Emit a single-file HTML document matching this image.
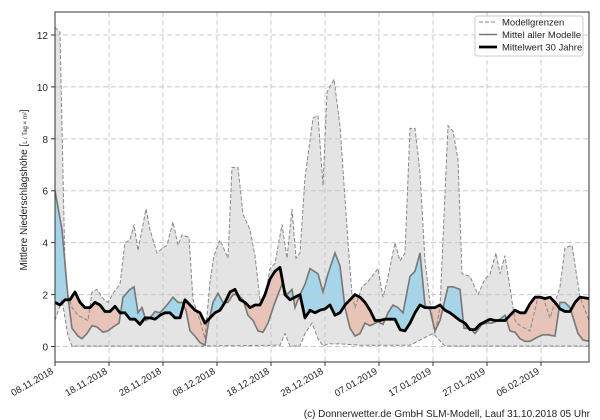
<!DOCTYPE html>
<html><head><meta charset="utf-8"><style>
html,body{margin:0;padding:0;background:#fff;}
svg{display:block;font-family:"Liberation Sans","DejaVu Sans",sans-serif;}
</style></head><body>
<svg id="s" width="600" height="420" xmlns="http://www.w3.org/2000/svg"></svg>
<script>
const L=55,R=589,T=12,B=362;
const Y=v=>346.5-v*25.96;
const up=[[55,12.3],[60,12.1],[65,3],[68,2],[72,1.5],[78,1.2],[88,1.0],[92,2.1],[97,2.2],[104,1.8],[108,1.7],[114,2.1],[120,2.4],[125,4.0],[130,4.1],[134,4.7],[138,3.7],[146,5.3],[150,4.5],[157,3.6],[163,3.8],[167,3.9],[173,4.8],[178,3.9],[182,4.3],[189,4.2],[193,1.8],[200,1.0],[205,0.3],[210,2.5],[214,3.5],[220,4.1],[228,3.4],[232,6.9],[238,6.9],[243,5.1],[250,4.5],[255,3.5],[260,1.8],[265,1.9],[270,3.0],[275,3.2],[282,4.7],[287,3.4],[292,5.3],[296,3.4],[300,3.6],[305,6.5],[313,8.8],[318,8.9],[323,6.2],[327,9.8],[334,10.3],[340,8.5],[348,4],[352,2],[355,1.5],[362,2.3],[368,2.5],[378,3.0],[383,1.9],[387,2.5],[395,4.0],[400,3.3],[405,3.6],[410,8.4],[415,8.4],[420,6.7],[425,3.3],[430,1.7],[435,0.5],[440,1.5],[448,8.5],[453,8.3],[458,7.2],[462,2.8],[470,2.7],[478,2.0],[485,2.6],[490,2.8],[496,3.6],[500,2.8],[505,3.5],[515,1.0],[520,0.8],[530,0.6],[538,1.9],[543,1.9],[550,1.1],[560,2.3],[565,3.8],[572,3.9],[580,1.9],[589,1.0]];
const lo=[[55,1.0],[62,1.8],[68,0.4],[72,0.02],[200,0.02],[280,0.05],[285,0.5],[290,0.02],[300,0.02],[305,0.5],[312,0.9],[318,0.3],[323,0.02],[328,0.1],[340,0.1],[360,0.05],[410,0.05],[433,0.5],[438,0.3],[445,0.02],[589,0.02]];
const mo=[[55,6.0],[62,4.5],[68,1.9],[72,0.7],[78,0.4],[82,0.3],[87,0.5],[92,0.8],[97,0.75],[103,0.55],[108,0.6],[113,0.75],[119,0.9],[123,1.9],[130,2.2],[134,2.3],[138,1.3],[142,1.5],[146,1.0],[150,1.1],[155,1.35],[160,1.3],[167,1.6],[173,1.9],[178,1.7],[182,1.7],[186,1.4],[190,0.6],[195,0.4],[200,0.15],[205,0.05],[208,0.8],[213,1.7],[218,2.05],[223,1.7],[228,1.7],[233,2.0],[238,2.0],[243,1.8],[248,1.2],[253,1.0],[258,0.6],[263,0.55],[268,0.9],[274,1.6],[282,2.4],[287,2.0],[292,2.2],[295,1.5],[300,2.0],[305,2.4],[310,3.0],[318,2.8],[323,2.1],[328,2.8],[335,3.6],[340,3.1],[345,1.5],[350,0.7],[355,0.4],[360,0.5],[365,0.9],[370,0.8],[378,0.95],[383,0.85],[388,1.3],[393,1.6],[398,1.5],[403,1.3],[410,2.7],[415,2.9],[420,3.6],[425,1.6],[430,1.4],[435,0.6],[440,1.0],[448,2.3],[453,2.3],[460,2.2],[464,0.7],[470,0.7],[475,0.5],[482,0.85],[487,0.9],[492,0.9],[498,1.0],[505,1.2],[510,0.6],[515,0.55],[520,0.3],[525,0.2],[530,0.2],[537,0.35],[543,0.45],[548,0.45],[555,0.4],[560,1.7],[565,1.7],[570,1.5],[578,0.5],[583,0.25],[589,0.2]];
const cl=[[55,1.7],[60,1.6],[65,1.8],[70,1.8],[75,2.1],[80,1.7],[85,1.5],[90,1.5],[95,1.7],[100,1.6],[105,1.35],[110,1.35],[115,1.55],[120,1.3],[125,1.3],[130,1.05],[135,1.05],[140,0.85],[145,1.1],[150,1.1],[155,1.05],[160,1.2],[165,1.3],[170,1.3],[175,1.1],[180,1.1],[185,1.8],[190,1.6],[195,1.4],[200,1.3],[205,0.9],[210,1.1],[215,1.3],[220,1.4],[225,1.7],[230,2.1],[235,2.2],[240,1.8],[245,1.7],[250,1.5],[255,1.6],[260,1.6],[265,2.0],[270,2.6],[275,2.9],[280,3.05],[285,2.0],[290,1.8],[300,2.0],[305,1.1],[310,1.4],[315,1.3],[320,1.4],[325,1.45],[330,1.6],[335,1.2],[340,1.3],[345,1.6],[350,1.8],[355,2.0],[360,1.9],[365,1.7],[370,1.4],[375,1.0],[380,1.0],[385,1.05],[390,1.05],[395,1.05],[400,0.65],[405,0.6],[410,0.9],[415,1.3],[420,1.6],[425,1.5],[430,1.5],[435,1.5],[440,1.6],[445,1.4],[450,1.3],[455,1.15],[460,1.0],[465,0.9],[470,0.65],[475,0.65],[480,0.85],[485,0.95],[490,1.05],[495,1.0],[500,1.0],[505,1.0],[510,1.2],[515,1.4],[520,1.3],[525,1.3],[530,1.65],[535,1.9],[540,1.9],[545,1.85],[550,1.9],[555,1.7],[560,1.45],[565,1.35],[570,1.35],[575,1.7],[580,1.9],[589,1.85]];
function it(a,x){for(let i=1;i<a.length;i++){if(x<=a[i][0]){const t=(x-a[i-1][0])/(a[i][0]-a[i-1][0]);return a[i-1][1]+t*(a[i][1]-a[i-1][1]);}}return a[a.length-1][1];}
const xs=[];for(let x=L;x<=R;x+=0.5)xs.push(x);
const pts=a=>a.map(p=>p[0]+','+Y(p[1]).toFixed(1)).join(' ');
let h='';
h+=`<polygon points="${pts(up)} ${pts(lo.slice().reverse())}" fill="#e4e4e4"/>`;
let bl=xs.map(x=>[x,Math.max(it(mo,x),it(cl,x))]), sl=xs.map(x=>[x,Math.min(it(mo,x),it(cl,x))]), c=xs.map(x=>[x,it(cl,x)]).reverse();
h+=`<polygon points="${pts(bl)} ${pts(c)}" fill="#a6d5ea"/>`;
h+=`<polygon points="${pts(sl)} ${pts(c)}" fill="#e8c3b8"/>`;
for(let v=0;v<=12;v+=2){const y=Y(v);h+=`<line x1="${L}" x2="${R}" y1="${y}" y2="${y}" stroke="#c8c8c8" stroke-dasharray="5,3"/>`;h+=`<text x="48" y="${y+4}" font-size="10" text-anchor="end" fill="#222">${v}</text><line x1="${L-4}" x2="${L}" y1="${y}" y2="${y}" stroke="#333"/>`;}
const lab=['08.11.2018','18.11.2018','28.11.2018','08.12.2018','18.12.2018','28.12.2018','07.01.2019','17.01.2019','27.01.2019','06.02.2019'];
lab.forEach((t,i)=>{const x=L+i*54;h+=`<line x1="${x}" x2="${x}" y1="${T}" y2="${B}" stroke="#c8c8c8" stroke-dasharray="5,3"/><line x1="${x}" x2="${x}" y1="${B}" y2="${B+4}" stroke="#333"/><text transform="translate(${x-1},${B+11}) rotate(-30)" font-size="9.5" text-anchor="end" fill="#222">${t}</text>`;});
h+=`<polyline points="${pts(up)}" fill="none" stroke="#888" stroke-width="1" stroke-dasharray="4,2"/>`;
h+=`<polyline points="${pts(lo)}" fill="none" stroke="#888" stroke-width="1" stroke-dasharray="4,2"/>`;
h+=`<polyline points="${pts(mo)}" fill="none" stroke="#777" stroke-width="1.6"/>`;
h+=`<polyline points="${pts(cl)}" fill="none" stroke="#000" stroke-width="2.8" stroke-linejoin="round"/>`;
h+=`<rect x="${L}" y="${T}" width="${R-L}" height="${B-T}" fill="none" stroke="#333" stroke-width="1"/>`;
h+=`<rect x="475" y="16" width="108" height="40" fill="#fff" fill-opacity="0.9" stroke="#ccc" rx="2"/>`;
h+=`<line x1="479" x2="497" y1="22" y2="22" stroke="#888" stroke-dasharray="4,2"/><text x="502" y="25.5" font-size="9.5" fill="#222">Modellgrenzen</text>`;
h+=`<line x1="479" x2="497" y1="34.5" y2="34.5" stroke="#777" stroke-width="1.6"/><text x="502" y="38" font-size="9.5" fill="#222">Mittel aller Modelle</text>`;
h+=`<line x1="479" x2="497" y1="47" y2="47" stroke="#000" stroke-width="2.8"/><text x="502" y="50.5" font-size="9.5" fill="#222">Mittelwert 30 Jahre</text>`;
h+=`<text transform="translate(27,190) rotate(-90)" font-size="10" text-anchor="middle" fill="#222">Mittlere Niederschlagshöhe [<tspan font-size="6">L / Tag × m²</tspan>]</text>`;
h+=`<text x="590" y="417" font-size="10" text-anchor="end" fill="#222">(c) Donnerwetter.de GmbH SLM-Modell, Lauf 31.10.2018 05 Uhr</text>`;
document.getElementById('s').innerHTML=h;
</script>
</body></html>
